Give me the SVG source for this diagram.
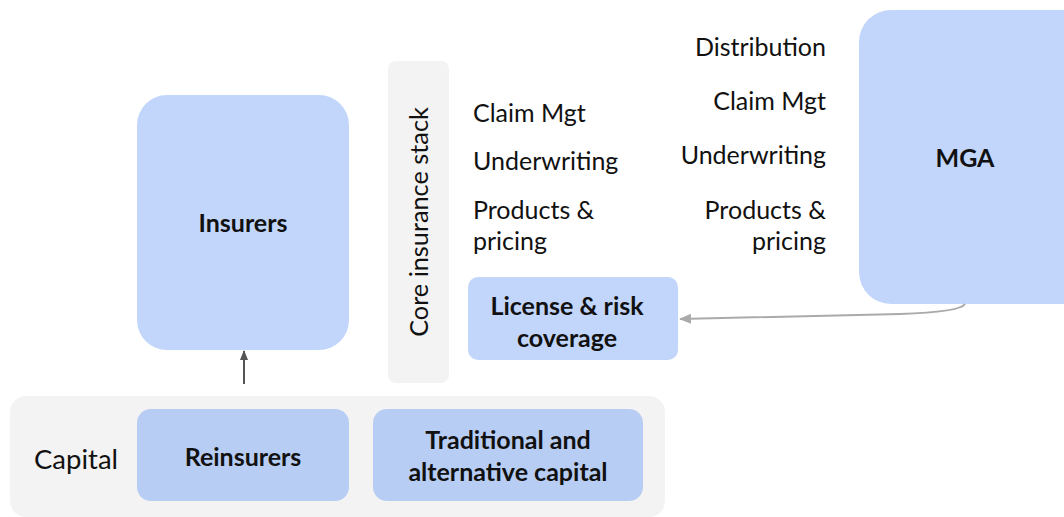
<svg xmlns="http://www.w3.org/2000/svg" width="1064" height="517" viewBox="0 0 1064 517">
<style>
.t{font-family:"Source Sans Pro","Lato","Liberation Sans",sans-serif;font-size:25px;fill:#111}
.b{font-family:"Source Sans Pro","Lato","Liberation Sans",sans-serif;font-size:25px;font-weight:bold;fill:#111}
.grey{fill:#f3f3f3}
.blue{fill:#c2d6fb}
.dblue{fill:#b8cdf3}
</style>
<defs>
<marker id="ah" markerWidth="10" markerHeight="8" refX="9" refY="4" orient="auto" markerUnits="userSpaceOnUse">
<path d="M0,0 L10,4 L0,8 Z" fill="#555"/>
</marker>
<marker id="ah2" markerWidth="12" markerHeight="10" refX="11" refY="5" orient="auto" markerUnits="userSpaceOnUse">
<path d="M0,0 L12,5 L0,10 Z" fill="#aaa"/>
</marker>
</defs>
<rect width="1064" height="517" fill="#fff"/>
<g id="capital">
<rect class="grey" x="10" y="396" width="655" height="121" rx="16"/>
<text class="t" x="34" y="469" style="font-size:27.5px">Capital</text>
</g>
<g id="reinsurers">
<rect class="dblue" x="137" y="409" width="212" height="92" rx="14"/>
<text class="b" x="243" y="466" text-anchor="middle">Reinsurers</text>
</g>
<g id="tradcap">
<rect class="dblue" x="373" y="409" width="270" height="92" rx="14"/>
<text class="b" x="508" y="449" text-anchor="middle">Traditional and</text>
<text class="b" x="508" y="481" text-anchor="middle">alternative capital</text>
</g>
<g id="insurers">
<rect class="blue" x="137" y="95" width="212" height="255" rx="30"/>
<text class="b" x="243" y="232" text-anchor="middle">Insurers</text>
</g>
<g id="core">
<rect class="grey" x="388" y="61" width="61" height="322" rx="8"/>
<text class="t" transform="translate(428,222) rotate(-90)" text-anchor="middle" style="font-size:25.3px">Core insurance stack</text>
<text class="t" x="473" y="122">Claim Mgt</text>
<text class="t" x="473" y="170">Underwriting</text>
<text class="t" x="473" y="219">Products &amp;</text>
<text class="t" x="473" y="250">pricing</text>
</g>
<g id="license">
<rect class="blue" x="468" y="277" width="210" height="83" rx="10"/>
<text class="b" x="567" y="315" text-anchor="middle">License &amp; risk</text>
<text class="b" x="567" y="347" text-anchor="middle">coverage</text>
</g>
<g id="mga">
<rect class="blue" x="859" y="10" width="240" height="294" rx="32"/>
<text class="b" x="965" y="167" text-anchor="middle">MGA</text>
<text class="t" x="826" y="56" text-anchor="end">Distribution</text>
<text class="t" x="826" y="110" text-anchor="end">Claim Mgt</text>
<text class="t" x="826" y="164" text-anchor="end">Underwriting</text>
<text class="t" x="826" y="219" text-anchor="end">Products &amp;</text>
<text class="t" x="826" y="250" text-anchor="end">pricing</text>
</g>
<g id="connectors" fill="none">
<line x1="244" y1="384" x2="244" y2="351" stroke="#555" stroke-width="2" marker-end="url(#ah)"/>
<path d="M965,304 Q960,312 900,314 L680,319" stroke="#aaa" stroke-width="2" marker-end="url(#ah2)"/>
</g>
</svg>
